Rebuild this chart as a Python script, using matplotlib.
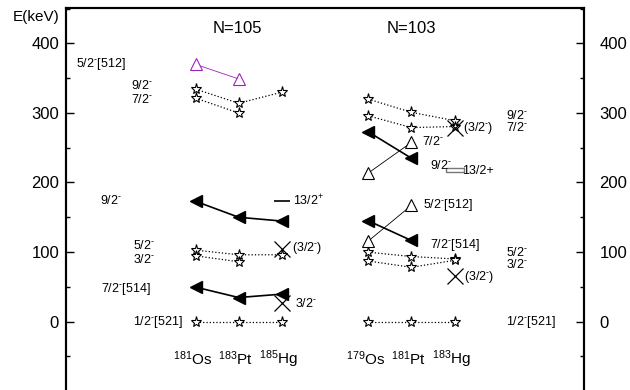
import numpy as np
import matplotlib
matplotlib.use('Agg')
import matplotlib.pyplot as plt
from matplotlib.ticker import MultipleLocator

plt.rcParams['font.family'] = ['Liberation Sans', 'DejaVu Sans']
plt.rcParams['mathtext.fontset'] = 'custom'
plt.rcParams['mathtext.rm'] = 'Liberation Sans'
plt.rcParams['mathtext.default'] = 'regular'

# nucleus positions on the x axis
x105 = [3, 4, 5]   # 181Os 183Pt 185Hg
x103 = [7, 8, 9]   # 179Os 181Pt 183Hg
nuclei = ['$^{181}$Os', '$^{183}$Pt', '$^{185}$Hg', '$^{179}$Os', '$^{181}$Pt', '$^{183}$Hg']

# N=105 levels (keV)
gs_105 = [0, 0, 0]
h514_105 = [49.5, 34.5, 39.4]
s52_105 = [102.7, 96, 96]
s32_105 = [94.5, 86]
h92_105 = [173, 150, 144.5]
s92_105 = [334.4, 314, 330]
s72_105 = [321.4, 300]
t512_105 = [370, 349]
x32_105 = [104.6, 26.5]   # crosses at 185Hg
i132_105 = 174

# N=103 levels (keV)
gs_103 = [0, 0, 0]
s52_103 = [99.8, 93.5, 90]
s32_103 = [87, 78, 88]
h514_103 = [145, 116.6]
t512_103 = [115.6, 167]
h92_103 = [273, 235]
t72_103 = [213.5, 257.6]
s92_103 = [320, 301, 289]
s72_103 = [296, 279, 280.5]
x32_103 = [66, 278]       # crosses at 183Hg
i132_103 = 218

fig = plt.figure(figsize=(6.3, 3.9), dpi=100)
ax = fig.add_axes([66/630, -0.0026, 518/630, 0.982])

def stars(xs, ys):
    ax.plot(xs, ys, ls=':', lw=0.9, color='black', marker='*', ms=8,
            mfc='white', mec='black', mew=0.8, zorder=3)

def filled(xs, ys):
    ax.plot(xs, ys, ls='-', lw=1.2, color='black', marker='<', ms=8,
            mfc='black', mec='black', zorder=3)

def opentri(xs, ys, c='black'):
    ax.plot(xs, ys, ls='-', lw=0.6, color=c, marker='^', ms=8.5,
            mfc='white', mec=c, mew=0.8, zorder=3)

# N=105
stars(x105, gs_105)
filled(x105, h514_105)
stars(x105, s52_105)
stars(x105[:2], s32_105)
filled(x105, h92_105)
stars(x105, s92_105)
stars(x105[:2], s72_105)
opentri(x105[:2], t512_105, c='#a020c0')
ax.plot([x105[2]] * 2, x32_105, ls='none', marker='x', ms=11, mew=0.9, color='black', zorder=4)
ax.plot(x105[2], i132_105, marker='_', ms=12, mew=1.2, color='black')

# N=103
stars(x103, gs_103)
stars(x103, s52_103)
stars(x103, s32_103)
filled(x103[:2], h514_103)
opentri(x103[:2], t512_103)
filled(x103[:2], h92_103)
opentri(x103[:2], t72_103)
stars(x103, s92_103)
stars(x103, s72_103)
ax.plot([x103[2]] * 2, x32_103, ls='none', marker='x', ms=11, mew=0.9, color='black', zorder=4)
rect = [(-1, -0.25), (1, -0.25), (1, 0.25), (-1, 0.25), (-1, -0.25)]
ax.plot(x103[2], i132_103, marker=rect, ms=13, mfc='white', mec='#777777', mew=1.0)

m = r'$^{\text{-}}$'
fs = 9
labels = [
    (0.23, 371, '5/2' + m + '[512]'), (1.5, 339, '9/2' + m), (1.5, 320, '7/2' + m),
    (0.79, 174, '9/2' + m), (1.55, 110, '5/2' + m), (1.55, 89, '3/2' + m),
    (0.81, 47, '7/2' + m + '[514]'), (1.55, 0, '1/2' + m + '[521]'),
    (5.26, 174, '13/2$^{+}$'), (5.24, 106, '(3/2' + m + ')'), (5.3, 25.5, '3/2' + m),
    (10.2, 297, '9/2' + m), (10.2, 279, '7/2' + m), (9.2, 278.7, '(3/2' + m + ')'),
    (8.25, 258.6, '7/2' + m), (8.43, 224, '9/2' + m), (9.17, 217, '13/2+'),
    (8.27, 168, '5/2' + m + '[512]'), (8.43, 110, '7/2' + m + '[514]'),
    (10.2, 99, '5/2' + m), (10.2, 82, '3/2' + m), (9.22, 64, '(3/2' + m + ')'),
    (10.2, 0, '1/2' + m + '[521]'),
]
for lx, ly, t in labels:
    ax.text(lx, ly, t, fontsize=fs, ha='left', va='center')

ax.text(3.98, 421, 'N=105', fontsize=12, ha='center', va='center')
ax.text(7.99, 421, 'N=103', fontsize=12, ha='center', va='center')
for xi, name in zip(x105 + x103, nuclei):
    ax.text(xi - 0.07, -54, name, fontsize=11, ha='center', va='center')

fig.text(13/630, 1 - 17/390, 'E(keV)', fontsize=11, ha='left', va='center')

ax.set_xlim(0, 12)
ax.set_ylim(-100, 451)
ax.set_xticks([])
ax.yaxis.set_major_locator(MultipleLocator(100))
ax.yaxis.set_minor_locator(MultipleLocator(50))
ax.set_yticks([0, 100, 200, 300, 400])
ax.tick_params(axis='y', which='major', direction='in', length=6, width=1,
               labelsize=12, pad=5, left=True, right=False)
ax.tick_params(axis='y', which='minor', direction='in', length=3, width=1,
               left=True, right=False)

ax2 = ax.twinx()
ax2.set_ylim(ax.get_ylim())
ax2.set_yticks([0, 100, 200, 300, 400])
ax2.yaxis.set_minor_locator(MultipleLocator(50))
ax2.tick_params(axis='y', which='major', direction='in', length=6, width=1,
                labelsize=12, pad=11)
ax2.tick_params(axis='y', which='minor', direction='in', length=3, width=1)

for a in (ax, ax2):
    for sp in a.spines.values():
        sp.set_linewidth(1.5)

fig.savefig('out.png', dpi=100)
